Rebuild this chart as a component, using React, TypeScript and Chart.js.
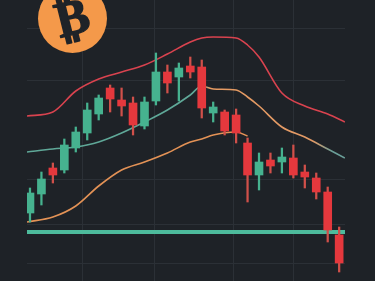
import React, { useEffect, useRef } from 'react';
import { Chart, registerables } from 'chart.js';

Chart.register(...registerables);

// Candles (one per session)
const OPEN = [26800, 28700, 31300, 31100, 33300, 34800, 36700, 39300, 38100, 37800, 35500, 38000, 40900, 40400, 41500, 41400, 36800, 36900, 36600, 33800, 30600, 32100, 31900, 32300, 30900, 30300, 28900, 24600];
const HIGH = [29300, 30900, 31800, 34200, 35400, 37800, 38600, 39600, 39300, 38400, 38400, 42800, 41600, 41800, 42400, 42100, 37900, 37100, 37200, 34300, 32800, 32800, 33300, 33600, 31600, 30800, 29400, 25400];
const LOW = [25900, 27600, 29800, 30800, 32900, 34100, 36100, 36900, 36500, 34600, 35200, 37600, 38800, 38000, 40300, 36300, 35900, 34600, 33800, 27900, 29100, 30800, 30800, 30300, 29300, 28200, 23900, 20900];
const CLOSE = [28800, 30200, 30600, 33600, 34900, 37100, 38300, 38200, 37500, 35600, 37900, 40900, 39800, 41300, 40900, 37300, 37400, 35000, 34800, 30600, 31900, 31500, 32400, 30600, 30400, 28900, 25100, 21800];

// Bands sampled at these session positions
const BAND_X = [-0.26, 2, 4, 6, 8, 10, 12, 14, 15, 16, 18, 19, 20, 22, 24, 26, 27.5];
const UPPER = [36500, 36900, 39000, 40200, 40900, 41600, 42700, 43900, 44300, 44400, 44300, 43600, 42400, 38800, 37500, 36700, 35900];
const MIDDLE = [32900, 33200, 33400, 33900, 34800, 35900, 37100, 38600, 39500, 39200, 39100, 38400, 37500, 35400, 34400, 33200, 32300];
const LOWER = [25900, 26400, 27500, 29500, 31100, 31900, 32800, 33900, 34200, 34600, 34900, 34500, null, null, null, null, null];

const SUPPORT = 24900;

// Grid positions
const GRID_Y = [45300, 40000, 30100, 25700, 21800];
const GRID_X = [4.6, 10.9, 17.8, 23.05];

const Y_MIN = 20000;
const Y_MAX = 48100;
const X_MIN = -0.26;
const X_MAX = 27.51;

const BG = '#1e2227';
const GREEN = '#46b28f';
const RED = '#e5383d';
const RED_WICK = '#d0504a';

const logoPlugin = {
  id: 'btcLogo',
  afterDraw(chart: any) {
    const c = chart.ctx;
    c.save();
    c.fillStyle = '#f4994a';
    c.beginPath();
    c.arc(72.5, 18.5, 34.5, 0, Math.PI * 2);
    c.fill();
    c.translate(73, 21);
    c.rotate((-14 * Math.PI) / 180);
    c.fillStyle = '#1f2328';
    c.strokeStyle = '#1f2328';
    c.lineWidth = 1.5;
    c.lineJoin = 'round';
    c.font = 'bold 50px "DejaVu Sans"';
    c.textAlign = 'center';
    c.textBaseline = 'middle';
    c.fillText('\u20BF', 0, 0);
    c.strokeText('\u20BF', 0, 0);
    c.restore();
  },
};

export default function App() {
  const ref = useRef<HTMLCanvasElement | null>(null);

  useEffect(() => {
    if (!ref.current) return;
    const idx = OPEN.map((_, i) => i);
    const up = idx.map((i) => CLOSE[i] >= OPEN[i]);
    const bodyColors = up.map((u) => (u ? GREEN : RED));
    const wickColors = up.map((u) => (u ? GREEN : RED_WICK));

    const middleColor = (ctx: any) => {
      const chart = ctx.chart;
      const area = chart.chartArea;
      if (!area) return '#5fa898';
      const g = chart.ctx.createLinearGradient(area.left, 0, area.right, 0);
      g.addColorStop(0, '#5fa898');
      g.addColorStop(0.545, '#5fa898');
      g.addColorStop(0.575, '#e59a62');
      g.addColorStop(0.9, '#e29a66');
      g.addColorStop(0.96, '#6a9e98');
      g.addColorStop(1, '#6a9e98');
      return g;
    };

    const chart = new Chart(ref.current, {
      type: 'bar',
      data: {
        datasets: [
          {
            type: 'bar',
            label: 'body',
            data: idx.map((i) => ({ x: i, y: [OPEN[i], CLOSE[i]] })) as any,
            backgroundColor: bodyColors,
            barThickness: 8,
            grouped: false,
            order: 0,
          } as any,
          {
            type: 'bar',
            label: 'wick',
            data: idx.map((i) => ({ x: i, y: [LOW[i], HIGH[i]] })) as any,
            backgroundColor: wickColors,
            barThickness: 1.6,
            grouped: false,
            order: 1,
          } as any,
          {
            type: 'line',
            label: 'support',
            data: [
              { x: X_MIN, y: SUPPORT },
              { x: X_MAX, y: SUPPORT },
            ],
            borderColor: '#4dbb9c',
            borderWidth: 4,
            pointRadius: 0,
            order: 2,
          } as any,
          {
            type: 'line',
            label: 'upper',
            data: BAND_X.map((x, i) => ({ x, y: UPPER[i] })),
            borderColor: '#d9434f',
            borderWidth: 1.6,
            pointRadius: 0,
            cubicInterpolationMode: 'monotone',
            order: 3,
          } as any,
          {
            type: 'line',
            label: 'middle',
            data: BAND_X.map((x, i) => ({ x, y: MIDDLE[i] })),
            borderColor: middleColor,
            borderWidth: 1.6,
            pointRadius: 0,
            cubicInterpolationMode: 'monotone',
            order: 3,
          } as any,
          {
            type: 'line',
            label: 'lower',
            data: BAND_X.map((x, i) => ({ x, y: LOWER[i] })),
            borderColor: '#e39256',
            borderWidth: 1.6,
            pointRadius: 0,
            cubicInterpolationMode: 'monotone',
            spanGaps: false,
            order: 3,
          } as any,
        ],
      },
      options: {
        responsive: false,
        animation: false,
        layout: { padding: { left: 27, right: 30, top: 0, bottom: 0 } },
        plugins: {
          legend: { display: false },
          tooltip: { enabled: false },
          title: { display: false },
        },
        scales: {
          x: {
            type: 'linear',
            min: X_MIN,
            max: X_MAX,
            offset: false,
            ticks: { display: false },
            border: { display: false },
            grid: { color: '#2b3036', lineWidth: 1, drawTicks: false, offset: false },
            afterBuildTicks: (s: any) => {
              s.ticks = GRID_X.map((v) => ({ value: v }));
            },
          },
          y: {
            type: 'linear',
            min: Y_MIN,
            max: Y_MAX,
            ticks: { display: false },
            border: { display: false },
            grid: { color: '#2b3036', lineWidth: 1, drawTicks: false },
            afterBuildTicks: (s: any) => {
              s.ticks = GRID_Y.map((v) => ({ value: v }));
            },
          },
        },
      } as any,
      plugins: [logoPlugin],
    });
    return () => chart.destroy();
  }, []);

  return (
    <div style={{ position: 'fixed', left: 0, top: 0, width: 375, height: 281, background: BG, overflow: 'hidden' }}>
      <canvas ref={ref} width={375} height={281} style={{ display: 'block' }} />
    </div>
  );
}
